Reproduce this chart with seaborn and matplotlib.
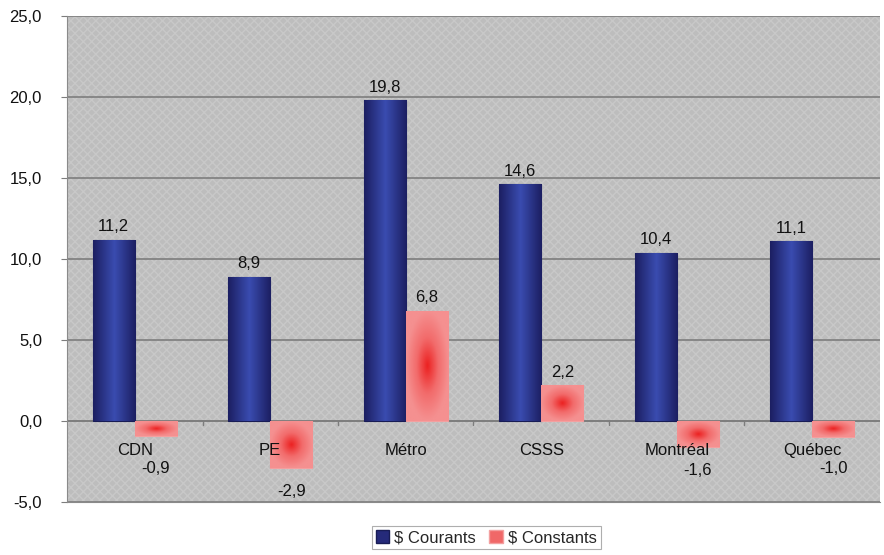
import numpy as np
import pandas as pd
import seaborn as sns
import matplotlib
matplotlib.use('Agg')
import matplotlib.pyplot as plt
from matplotlib.patches import Rectangle, Patch
from matplotlib.ticker import FuncFormatter, MultipleLocator


# chart data
categories = ['CDN', 'PE', 'Métro', 'CSSS', 'Montréal', 'Québec']
courants = [11.2, 8.9, 19.8, 14.6, 10.4, 11.1]
constants = [-0.9, -2.9, 6.8, 2.2, -1.6, -1.0]
series_names = ['$ Courants', '$ Constants']


def fr(v, pos=None):
    # french decimal comma
    return f'{v:.1f}'.replace('.', ',')


df = pd.DataFrame({
    'cat': categories * 2,
    'serie': [series_names[0]] * len(categories) + [series_names[1]] * len(categories),
    'val': courants + constants,
})

sns.set_style('white')
plt.rcParams['font.family'] = ['Liberation Sans', 'DejaVu Sans']
plt.rcParams['hatch.linewidth'] = 1.0

FS = 12

fig = plt.figure(figsize=(8.84, 5.55), dpi=100)
ax = fig.add_axes([67 / 884, 1 - 502 / 555, (880 - 67) / 884, (502 - 16) / 555])

# textured grey background
ax.set_facecolor('#bdbdbd')
ax.add_patch(Rectangle((0, 0), 1, 1, transform=ax.transAxes, facecolor='none',
                       edgecolor='#c8c8c8', hatch='xxxx', linewidth=0, zorder=0))

sns.barplot(data=df, x='cat', y='val', hue='serie', order=categories,
            hue_order=series_names, palette=['#252a7a', '#f06868'],
            width=0.62, gap=0, ax=ax, legend=False, zorder=2)

# gradient fills clipped to each bar
blue_cmap = matplotlib.colors.LinearSegmentedColormap.from_list(
    'b', ['#1c1f62', '#3a4cb0', '#1c1f62'])
red_cmap = matplotlib.colors.LinearSegmentedColormap.from_list(
    'r', ['#f59090', '#f26b6b', '#ec2424'])
gx = np.linspace(-1, 1, 64)
horiz = (gx[None, :] + 1) / 2 * np.ones((64, 1))
radial = 1 - np.clip(np.sqrt(gx[None, :] ** 2 + gx[:, None] ** 2), 0, 1)
bars = ax.patches[1:]
for i, p in enumerate(bars):
    x, y = p.get_x(), p.get_y()
    w, h = p.get_width(), p.get_height()
    if i < len(categories):
        img, cmap = horiz, blue_cmap
        p.set_edgecolor('#181c55')
    else:
        img, cmap = radial, red_cmap
        p.set_edgecolor('#f3a0a0')
    p.set_linewidth(0.8)
    im = ax.imshow(img, cmap=cmap, extent=(x, x + w, y, y + h),
                   aspect='auto', zorder=2.5, interpolation='bilinear')
    im.set_clip_path(p)

ax.set_ylim(-5, 25)
ax.set_xlim(-0.5, len(categories) - 0.5)

# value labels
for i, p in enumerate(bars):
    v = courants[i] if i < len(categories) else constants[i - len(categories)]
    cx = p.get_x() + p.get_width() / 2
    if v >= 0:
        ax.text(cx, v + 0.35, fr(v), ha='center', va='bottom', fontsize=FS,
                color='#111111', zorder=5)
    else:
        ax.text(cx, min(v - 1.0, -2.45), fr(v), ha='center', va='top', fontsize=FS,
                color='#111111', zorder=5)

# category names drawn inside the plot area
for i, c in enumerate(categories):
    ax.text(i, -1.85, c, ha='center', va='center', fontsize=FS,
            color='#111111', zorder=5)

ax.yaxis.set_major_locator(MultipleLocator(5))
ax.yaxis.set_major_formatter(FuncFormatter(fr))
ax.grid(axis='y', color='#7d7d7d', linewidth=1.2, zorder=1)
ax.set_axisbelow(True)
ax.axhline(0, color='#7d7d7d', linewidth=1.2, zorder=1.5)
for k in range(1, len(categories)):
    ax.plot([k - 0.5, k - 0.5], [0, -0.25], color='#7d7d7d', linewidth=1, zorder=1.5)

ax.set_xticks([])
ax.set_xlabel('')
ax.set_ylabel('')
ax.tick_params(axis='y', labelsize=FS, length=4, pad=14, color='#7d7d7d', left=True,
               labelcolor='#111111')
for s in ['top', 'right']:
    ax.spines[s].set_visible(False)
ax.spines['left'].set_color('#8a8a8a')
ax.spines['bottom'].set_color('#8a8a8a')

handles = [Patch(facecolor='#252a7a', edgecolor='#181c55'),
           Patch(facecolor='#f06868', edgecolor='#f3a0a0')]
leg = fig.legend(handles, ['\\' + n for n in series_names], loc='lower center',
                 bbox_to_anchor=(0.55, -0.005), ncol=2, fontsize=FS, frameon=True,
                 fancybox=False, handlelength=0.8, handleheight=0.8,
                 handletextpad=0.3, columnspacing=0.8, borderpad=0.25)
leg.get_frame().set_edgecolor('#9a9a9a')
leg.get_frame().set_linewidth(0.8)

fig.savefig('out.png', dpi=100)
